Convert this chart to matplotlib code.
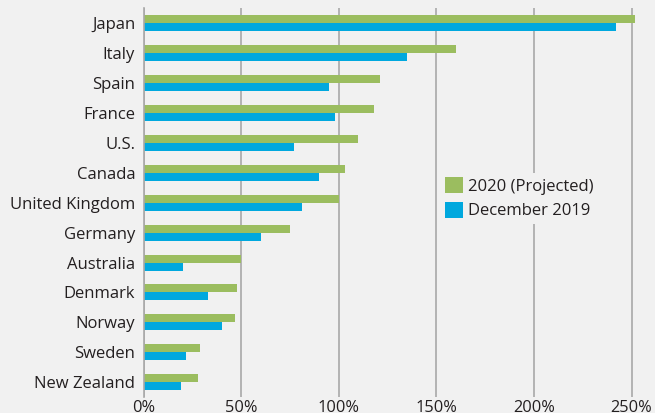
import matplotlib.pyplot as plt
import numpy as np

plt.rcParams['font.family'] = ['Open Sans', 'DejaVu Sans']

countries = ["Japan", "Italy", "Spain", "France", "U.S.", "Canada", "United Kingdom",
             "Germany", "Australia", "Denmark", "Norway", "Sweden", "New Zealand"]
projected_2020 = [252, 160, 121, 118, 110, 103, 100, 75, 50, 48, 47, 29, 28]
december_2019 = [242, 135, 95, 98, 77, 90, 81, 60, 20, 33, 40, 22, 19]
xticks = [0, 50, 100, 150, 200, 250]

bg = "#f1f1f1"
green = "#9bbd5f"
blue = "#00a8de"
gridc = "#a8a8a8"
textc = "#231f20"

fig = plt.figure(figsize=(6.55, 4.13), dpi=100, facecolor=bg)
ax = fig.add_axes([143.5 / 655, 1 - 396.7 / 413, 1 - 143.5 / 655, (396.7 - 8) / 413])
ax.set_facecolor(bg)

y = np.arange(len(countries))
h = 0.267
ax.barh(y - h / 2, projected_2020, height=h, color=green, label="2020 (Projected)", zorder=3)
ax.barh(y + h / 2, december_2019, height=h, color=blue, label="December 2019", zorder=3)

ax.set_xlim(0, 262)
ax.set_ylim(12.48, -0.5)
ax.set_yticks(y)
ax.set_yticklabels(countries)
ax.set_xticks(xticks)
ax.set_xticklabels([f"{v}%" for v in xticks])
ax.tick_params(axis="y", length=0, pad=6, labelsize=12, labelcolor=textc)
ax.tick_params(axis="x", length=0, pad=2.5, labelsize=11.8, labelcolor=textc)

for s in ["top", "right", "bottom"]:
    ax.spines[s].set_visible(False)
ax.spines["left"].set_color(gridc)
ax.spines["left"].set_linewidth(1.2)
ax.spines["left"].set_zorder(4)

ax.grid(axis="x", color=gridc, linewidth=1.2, zorder=1)
ax.set_axisbelow(True)

leg = ax.legend(loc="upper left", bbox_to_anchor=(441 / 655, 1 - 173 / 413),
                bbox_transform=fig.transFigure, fontsize=12, frameon=True,
                facecolor=bg, edgecolor="none", framealpha=1, borderpad=0.25,
                handlelength=1.05, handleheight=1.05, handletextpad=0.3,
                labelspacing=0.45, borderaxespad=0)
for t in leg.get_texts():
    t.set_color(textc)
leg.set_zorder(5)

plt.savefig("out.png", dpi=100, facecolor=bg)
